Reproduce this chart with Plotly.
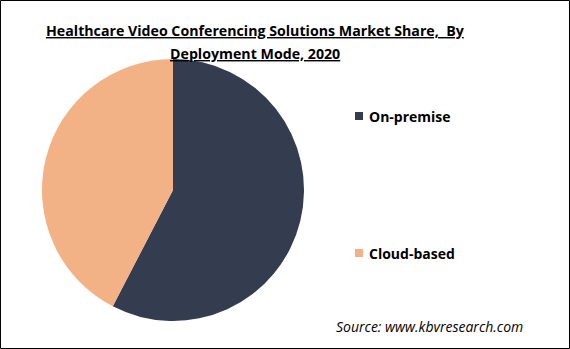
import plotly.graph_objects as go

labels = ["On-premise", "Cloud-based"]
values = [57.6, 42.4]
colors = ["#333d4f", "#f2b286"]
title_lines = ["Healthcare Video Conferencing Solutions Market Share,  By", "Deployment Mode, 2020"]

W, H = 570, 349
fig = go.Figure()
fig.add_trace(go.Pie(
    labels=labels, values=values, sort=False, direction="clockwise", rotation=0,
    marker=dict(colors=colors, line=dict(width=0)),
    textinfo="none", hoverinfo="label+percent", showlegend=False,
    domain=dict(x=[42 / W, 304 / W], y=[1 - 321 / H, 1 - 59 / H]),
))

font = "Open Sans, DejaVu Sans, sans-serif"
for line, ty in zip(title_lines, [30, 53]):
    fig.add_annotation(
        text="<b><u>" + line + "</u></b>",
        x=255 / W, y=1 - ty / H, xref="paper", yref="paper", xanchor="center", yanchor="middle",
        showarrow=False, font=dict(family=font, size=14.2, color="#000"), align="center")

legend_y = [116, 253]
for lab, col, ly in zip(labels, colors, legend_y):
    fig.add_shape(type="rect", xref="paper", yref="paper",
                  x0=355 / W, x1=363 / W, y0=1 - (ly + 4) / H, y1=1 - (ly - 4) / H,
                  fillcolor=col, line=dict(width=0))
    fig.add_annotation(text="<b>" + lab + "</b>", x=367 / W, y=1 - ly / H, xref="paper", yref="paper",
                       xanchor="left", yanchor="middle", showarrow=False,
                       font=dict(family=font, size=14, color="#000"))

fig.add_annotation(text="<i>Source: www.kbvresearch.com</i>", x=525 / W, y=1 - 326 / H,
                   xref="paper", yref="paper", xanchor="right", yanchor="middle", showarrow=False,
                   font=dict(family=font, size=14, color="#000"))

fig.add_shape(type="rect", xref="paper", yref="paper", x0=0.5 / W, x1=1 - 0.5 / W, y0=0.5 / H, y1=1 - 0.5 / H,
              line=dict(color="#000", width=1), fillcolor="rgba(0,0,0,0)")

fig.update_layout(width=W, height=H, margin=dict(l=0, r=0, t=0, b=0),
                  paper_bgcolor="white", plot_bgcolor="white")
fig.write_html("out.html")
